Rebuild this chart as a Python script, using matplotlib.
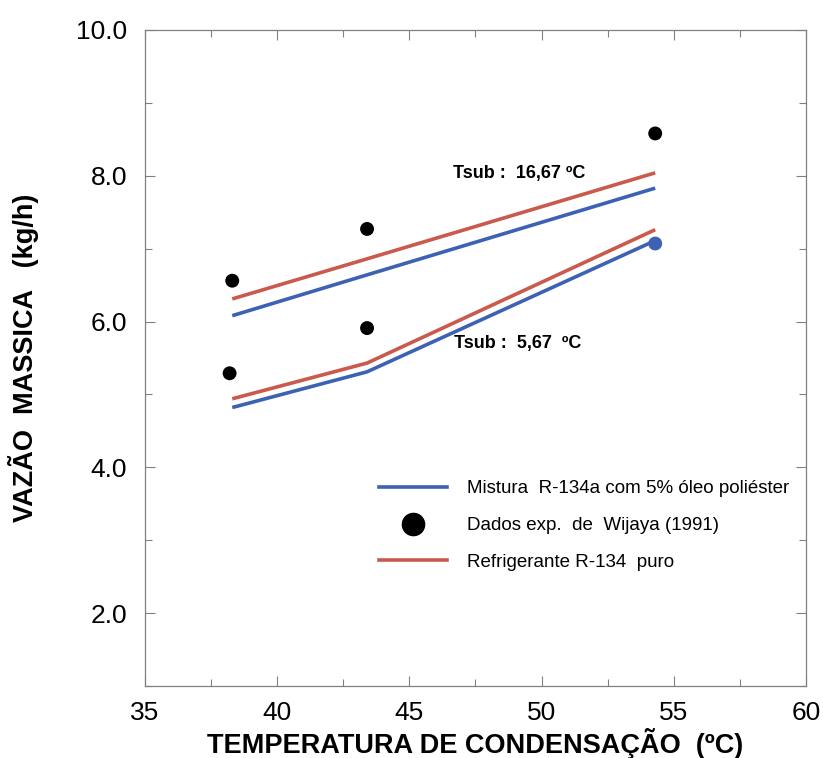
import matplotlib
matplotlib.use("Agg")
import matplotlib.pyplot as plt
from matplotlib.ticker import MultipleLocator
from matplotlib.lines import Line2D

plt.rcParams['font.family'] = ['Liberation Sans', 'DejaVu Sans']

# Condensation temperatures (ºC)
temp = [38.3, 43.4, 54.3]

# Mass flow (kg/h) - subcooling 16,67 ºC
mix_hi = [6.08, 6.64, 7.83]
pure_hi = [6.31, 6.86, 8.04]
# Mass flow (kg/h) - subcooling 5,67 ºC
mix_lo = [4.82, 5.31, 7.11]
pure_lo = [4.94, 5.43, 7.26]

# Experimental data, Wijaya (1991)
exp_temp = [38.3, 43.4, 54.3, 38.2, 43.4, 54.3]
exp_flow = [6.56, 7.27, 8.58, 5.29, 5.91, 7.07]
exp_color = ['black', 'black', 'black', 'black', 'black', '#3d62b3']

blue = '#3d62b3'
red = '#c95a4c'
frame = '#808080'

fig = plt.figure(figsize=(8.23, 7.58), dpi=100)
ax = fig.add_axes([0.1762, 0.095, 0.803, 0.8655])

ax.scatter(exp_temp, exp_flow, s=100, c=exp_color, zorder=2, linewidths=0)
ax.plot(temp, mix_hi, color=blue, lw=2.6, zorder=3, solid_capstyle='butt')
ax.plot(temp, pure_hi, color=red, lw=2.6, zorder=3, solid_capstyle='butt')
ax.plot(temp, mix_lo, color=blue, lw=2.6, zorder=3, solid_capstyle='butt')
ax.plot(temp, pure_lo, color=red, lw=2.6, zorder=3, solid_capstyle='butt')

ax.text(46.65, 8.03, 'Tsub :  16,67 ºC', fontsize=13, fontweight='bold', ha='left', va='center')
ax.text(46.7, 5.70, 'Tsub :  5,67  ºC', fontsize=13, fontweight='bold', ha='left', va='center')

ax.set_xlim(35, 60)
ax.set_ylim(1.0, 10.0)
ax.xaxis.set_major_locator(MultipleLocator(5))
ax.xaxis.set_minor_locator(MultipleLocator(2.5))
ax.set_yticks([2, 4, 6, 8, 10])
ax.set_yticklabels(['2.0', '4.0', '6.0', '8.0', '10.0'])
ax.yaxis.set_minor_locator(MultipleLocator(1))
ax.tick_params(which='both', direction='in', top=True, right=True, labelsize=19, color=frame)
ax.tick_params(which='major', length=7, width=0.8)
ax.tick_params(axis='y', which='major', pad=13)
ax.tick_params(axis='x', which='major', pad=11)
ax.tick_params(which='minor', length=5, width=0.8)
for s in ax.spines.values():
    s.set_color(frame)
    s.set_linewidth(0.9)

ax.set_xlabel('TEMPERATURA DE CONDENSAÇÃO  (ºC)', fontsize=19.5, fontweight='bold')
ax.set_ylabel('VAZÃO  MASSICA   (kg/h)', fontsize=19.5, fontweight='bold')
ax.xaxis.set_label_coords(0.5, -0.064)
ax.yaxis.set_label_coords(-0.160, 0.5)

handles = [
    Line2D([], [], color=blue, lw=2.6),
    Line2D([], [], color='black', marker='o', ls='none', markersize=16),
    Line2D([], [], color=red, lw=2.6),
]
labels = ['Mistura  R-134a com 5% óleo poliéster', 'Dados exp.  de  Wijaya (1991)', 'Refrigerante R-134  puro']
ax.legend(handles, labels, loc='upper left', bbox_to_anchor=(0.340, 0.328), frameon=False,
          fontsize=13.5, handlelength=3.6, handletextpad=1.1, labelspacing=1.05, borderpad=0)

fig.savefig('out.png', dpi=100)
